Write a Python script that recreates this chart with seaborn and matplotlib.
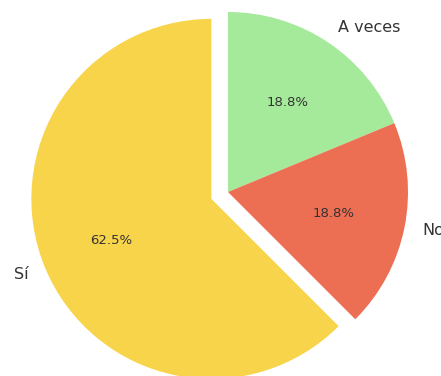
import matplotlib
matplotlib.use("Agg")
import matplotlib.pyplot as plt
import seaborn as sns

# Survey answers and their shares (percent)
categories = ["A veces", "No", "Sí"]
shares = [18.75, 18.75, 62.5]
slice_colors = ["#A5EA9A", "#EC6E53", "#F7D44A"]
explode = [0, 0, 0.1]

sns.set_style("white")
plt.rcParams["font.family"] = ["DejaVu Sans"]
palette = sns.color_palette(slice_colors)

fig = plt.figure(figsize=(4.41, 3.76), dpi=100)
ax = fig.add_axes([0, 0, 1, 1])
wedges, texts, autotexts = ax.pie(
    shares,
    labels=categories,
    colors=palette,
    explode=explode,
    startangle=90,
    counterclock=False,
    autopct="%1.1f%%",
    pctdistance=0.6,
    labeldistance=1.1,
    wedgeprops={"linewidth": 0, "edgecolor": "none"},
    textprops={"fontsize": 11.5, "color": "#333333"},
)
for t in autotexts:
    t.set_fontsize(9.5)
    t.set_color("#333333")

ax.set_xlim(-228 / 180, 213 / 180)
ax.set_ylim(-184 / 180, 192 / 180)
ax.set_aspect("auto")
ax.axis("off")

fig.savefig("out.png", dpi=100)
